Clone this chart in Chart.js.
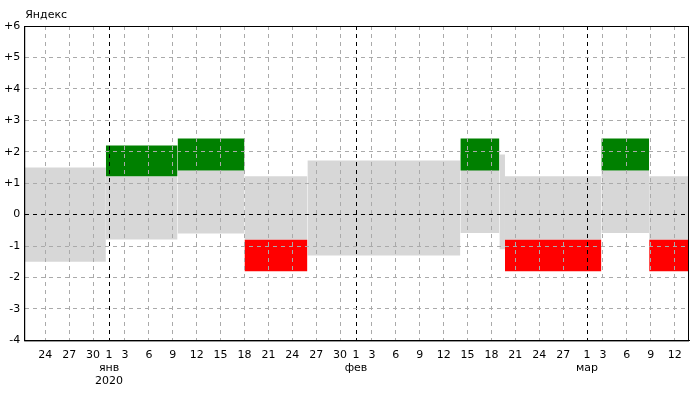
<!DOCTYPE html>
<html>
<head>
<meta charset="UTF-8">
<script src="https://cdn.jsdelivr.net/npm/chart.js@4.4.0/dist/chart.umd.min.js"></script>
<style>body{margin:0;background:#fff}</style>
</head>
<body>
<canvas id="c" width="700" height="400"></canvas>
<script>
// x values: days since 1 Jan 2020
var tickDays = [-8, -5, -2, 0, 2, 5, 8, 11, 14, 17, 20, 23, 26, 29, 31, 33, 36, 39, 42, 45, 48, 51, 54, 57, 60, 62, 65, 68, 71];
var tickLabels = ['24', '27', '30', ['1', 'янв', '2020'], '3', '6', '9', '12', '15', '18', '21', '24', '27', '30',
    ['1', 'фев'], '3', '6', '9', '12', '15', '18', '21', '24', '27', ['1', 'мар'], '3', '6', '9', '12'];
var monthStarts = [0, 31, 60];

// gray range band: [from, to, low, high]
var bandSegments = [
    [-10.65, -0.4, -1.5, 1.5],
    [-0.4, 8.6, -0.79, 1.22],
    [8.6, 17.0, -0.6, 1.4],
    [17.0, 24.9, -0.8, 1.22],
    [24.9, 44.1, -1.3, 1.72],
    [44.1, 49.0, -0.58, 1.91],
    [49.0, 49.7, -1.1, 1.91],
    [49.7, 61.8, -0.8, 1.22],
    [61.8, 67.8, -0.58, 1.4],
    [67.8, 72.8, -0.8, 1.22]
];
var greenBoxes = [
    [-0.4, 8.6, 1.22, 2.2],
    [8.6, 17.0, 1.4, 2.42],
    [44.1, 49.0, 1.4, 2.42],
    [61.8, 67.8, 1.4, 2.42]
];
var redBoxes = [
    [17.0, 24.9, -1.8, -0.8],
    [49.7, 61.8, -1.8, -0.8],
    [67.8, 72.8, -1.8, -0.8]
];

function boxSet(seg, color, order) {
    return {
        data: [{ x: seg[0], y: seg[3] }, { x: seg[1], y: seg[3] }],
        fill: { value: seg[2] },
        backgroundColor: color,
        borderWidth: 0,
        pointRadius: 0,
        order: order
    };
}

var datasets = [];
bandSegments.forEach(function (s) { datasets.push(boxSet(s, '#d7d7d7', 3)); });
greenBoxes.forEach(function (s) { datasets.push(boxSet(s, '#008000', 1)); });
redBoxes.forEach(function (s) { datasets.push(boxSet(s, '#ff0000', 1)); });

var frame = {
    id: 'frame',
    afterDraw: function (chart) {
        var a = chart.chartArea, ctx = chart.ctx;
        ctx.save();
        ctx.strokeStyle = '#000';
        ctx.lineWidth = 1;
        ctx.strokeRect(a.left + 0.5, a.top + 0.5, a.right - a.left - 1, a.bottom - a.top);
        ctx.fillStyle = '#000';
        ctx.font = '11px "DejaVu Sans"';
        ctx.textAlign = 'left';
        ctx.fillText('Яндекс', a.left + 1, 18);
        ctx.restore();
    }
};

var font = { family: '"DejaVu Sans", Verdana, sans-serif', size: 11 };

new Chart(document.getElementById('c'), {
    type: 'line',
    data: { datasets: datasets },
    options: {
        responsive: false,
        animation: false,
        layout: { padding: { top: 26, right: 11, left: 0, bottom: 4 } },
        plugins: { legend: { display: false }, tooltip: { enabled: false }, filler: { drawTime: 'beforeDraw' } },
        scales: {
            x: {
                type: 'linear',
                min: -10.65,
                max: 72.8,
                afterBuildTicks: function (s) { s.ticks = tickDays.map(function (v) { return { value: v }; }); },
                ticks: {
                    autoSkip: false, maxRotation: 0, color: '#000', font: font, padding: 8,
                    callback: function (v) { return tickLabels[tickDays.indexOf(v)]; }
                },
                grid: {
                    drawTicks: false,
                    color: function (c) { return monthStarts.indexOf(c.tick && c.tick.value) >= 0 ? '#000' : '#aaa'; }
                },
                border: { dash: [4, 4], color: '#000' }
            },
            y: {
                min: -4,
                max: 6,
                ticks: {
                    stepSize: 1, color: '#000', font: font, padding: 4,
                    callback: function (v) { return v > 0 ? '+' + v : String(v); }
                },
                grid: {
                    drawTicks: false,
                    color: function (c) { return c.tick && c.tick.value === 0 ? '#000' : '#aaa'; }
                },
                border: { dash: [4, 4], color: '#000' }
            }
        }
    },
    plugins: [frame]
});
</script>
</body>
</html>
